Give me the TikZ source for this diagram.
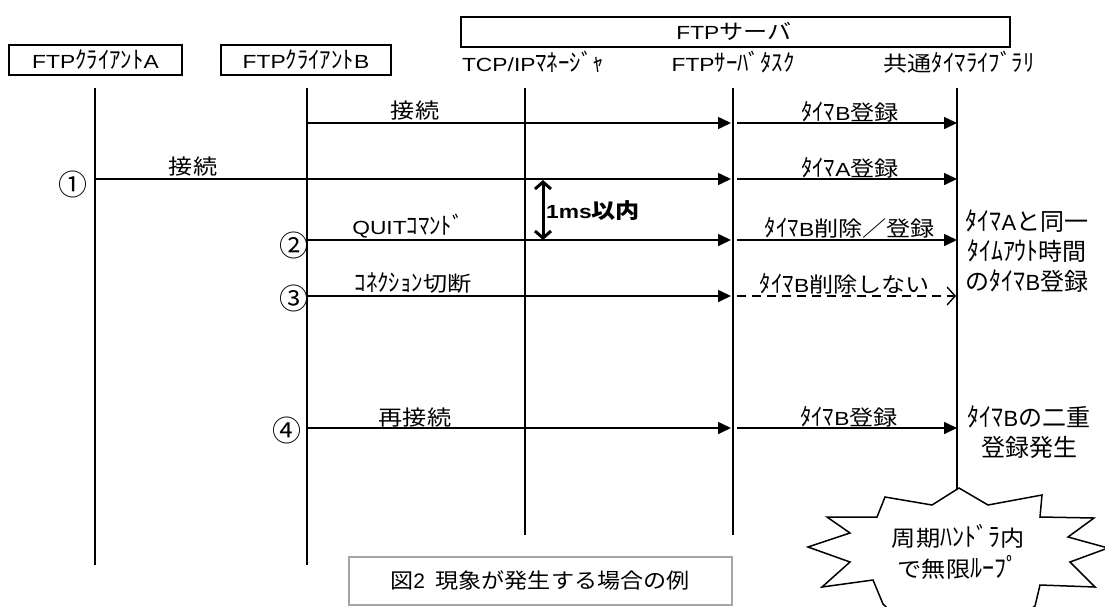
\documentclass[tikz,border=0pt]{standalone}
\usepackage{fontspec}
\setmainfont{Noto Sans CJK JP}[FakeStretch=1.15]
\newfontfamily\plainjp{Noto Sans CJK JP}
\newfontfamily\widejp{Noto Sans CJK JP}[FakeStretch=1.1]
\newfontfamily\hkfont{Noto Sans CJK JP}[FakeStretch=0.95]
\newfontfamily\hksfont{Noto Sans CJK JP}[FakeStretch=0.92]
\newfontfamily\latfont{Liberation Sans}[FakeStretch=1.2]
\newfontfamily\latplain{Liberation Sans}
\newcommand\la[1]{{\latfont\fontsize{19}{21}\selectfont #1}}
\newcommand\lb[1]{{\latplain\fontsize{22}{24}\selectfont #1}}
\newcommand\hk[1]{{\hkfont\fontsize{24}{26}\selectfont #1}}
\newcommand\hks[1]{{\hksfont\fontsize{26}{28}\selectfont #1}}
\usetikzlibrary{arrows.meta}
\tikzset{
  lbl/.style={font=\fontsize{21}{23}\selectfont, inner sep=0pt, anchor=base},
  hdr/.style={font=\fontsize{21}{23}\selectfont, inner sep=0pt},
  hbox/.style={draw, line width=1.5pt, inner sep=0pt, font=\fontsize{21}{23}\selectfont},
  life/.style={line width=1.5pt},
  msg/.style={line width=1.6pt, -{Triangle[length=13pt,width=12pt]}},
  dmsg/.style={line width=1.6pt, dash pattern=on 9pt off 6pt, -{Straight Barb[length=8pt,width=18pt,line width=1.4pt]}},
  side/.style={font=\plainjp\fontsize{24}{30}\selectfont, align=center, inner sep=0pt},
  num/.style={font=\plainjp\fontsize{29}{30}\selectfont, inner sep=0pt},
}
\begin{document}
\begin{tikzpicture}[x=1pt,y=-1pt]
\useasboundingbox[fill=white] (0,0) rectangle (1105,606);
% header boxes
\node[hbox, minimum width=173pt, minimum height=30pt] (hA) at (95.5,60) {\la{FTP}\hk{ｸﾗｲｱﾝﾄ}\la{A}};
\node[hbox, minimum width=170pt, minimum height=30pt] (hB) at (306,60) {\la{FTP}\hk{ｸﾗｲｱﾝﾄ}\la{B}};
\node[hbox, minimum width=549pt, minimum height=30pt] (hS) at (735.5,32) {};
\node[hdr] (hSt) at (734,31) {\la{FTP}サーバ};
\node[hdr] (hT) at (533,62) {\la{TCP/IP}\hk{ﾏﾈｰｼﾞｬ}};
\node[hdr] (hF) at (733,62) {\la{FTP}\hk{ｻｰﾊﾞﾀｽｸ}};
\node[hdr] (hL) at (959,62) {共通\hk{ﾀｲﾏﾗｲﾌﾞﾗﾘ}};
% lifelines
\coordinate (tA) at (95,88);   \coordinate (bA) at (95,565);
\coordinate (tB) at (307,88);  \coordinate (bB) at (307,565);
\coordinate (tT) at (525,88);  \coordinate (bT) at (525,535);
\coordinate (tF) at (733,88);  \coordinate (bF) at (733,535);
\coordinate (tL) at (957,88);  \coordinate (bL) at (957,489);
\draw[life] (tA) -- (bA);
\draw[life] (tB) -- (bB);
\draw[life] (tT) -- (bT);
\draw[life] (tF) -- (bF);
\draw[life] (tL) -- (bL);
% rows
\coordinate (r1) at (0,123);
\coordinate (r2) at (0,179);
\coordinate (r3) at (0,240);
\coordinate (r4) at (0,296);
\coordinate (r5) at (0,428);
% messages
\draw[msg, shorten >=2pt] (tB |- r1) -- (tF |- r1);
\draw[msg, shorten <=4pt] (tF |- r1) -- (tL |- r1);
\draw[msg, shorten >=2pt] (tA |- r2) -- (tF |- r2);
\draw[msg, shorten <=4pt] (tF |- r2) -- (tL |- r2);
\draw[msg, shorten >=2pt] (tB |- r3) -- (tF |- r3);
\draw[msg, shorten <=4pt] (tF |- r3) -- (tL |- r3);
\draw[msg, shorten >=2pt] (tB |- r4) -- (tF |- r4);
\draw[dmsg, shorten <=4pt, shorten >=1pt] (tF |- r4) -- (tL |- r4);
\draw[msg, shorten >=2pt] (tB |- r5) -- (tF |- r5);
\draw[msg, shorten <=4pt] (tF |- r5) -- (tL |- r5);
% message labels
\node[lbl] (m1) at (415,118) {接続};
\node[lbl] (m1b) at (850,120) {\hk{ﾀｲﾏ}\la{B}登録};
\node[lbl] (m2) at (193,174) {接続};
\node[lbl] (m2b) at (850,176) {\hk{ﾀｲﾏ}\la{A}登録};
\node[lbl] (m3) at (408,234) {\la{QUIT}\hk{ｺﾏﾝﾄﾞ}};
\node[lbl] (m3b) at (850,236) {\hk{ﾀｲﾏ}\la{B}削除／登録};
\node[lbl] (m4) at (413,291) {\hk{ｺﾈｸｼｮﾝ}切断};
\node[lbl] (m4b) at (845,292) {\hk{ﾀｲﾏ}\la{B}削除しない};
\node[lbl] (m5) at (415,425) {再接続};
\node[lbl] (m5b) at (849,425) {\hk{ﾀｲﾏ}\la{B}登録};
% 1ms
\coordinate (d1) at (543,180);
\coordinate (d2) at (543,240);
\draw[line width=3pt, {Straight Barb[length=7pt,width=16pt,line width=3pt]}-{Straight Barb[length=7pt,width=16pt,line width=3pt]}] (d1) -- (d2);
\node[font=\bfseries\fontsize{21}{23}\selectfont, inner sep=0pt, anchor=west] (ms) at (546,211) {{\latfont\fontsize{19}{21}\selectfont 1ms}以内};
% circled numbers
\node[num] (n1) at (73,184) {①};
\node[num] (n2) at (294,245) {②};
\node[num] (n3) at (294,298) {③};
\node[num] (n4) at (287,430) {④};
% side notes
\node[side] (s1) at (1027,251) {\hks{ﾀｲﾏ}\lb{A}と同一\\\hks{ﾀｲﾑｱｳﾄ}時間\\の\hks{ﾀｲﾏ}\lb{B}登録};
\node[side] (s2) at (1029,432) {\hks{ﾀｲﾏ}\lb{B}の二重\\登録発生};
% starburst
\begin{scope}
\clip (0,0) rectangle (1105,606);
\draw[line width=1.5pt, fill=white] (959,488) -- (988,505) -- (1042,495) -- (1040,517) -- (1094,518) -- (1068,537) -- (1108,548) -- (1070,562) -- (1095,587) -- (1040,585) -- (1035,606) -- (1010,625) -- (960,612) -- (905,625) -- (883,604) -- (873,580) -- (822,587) -- (850,562) -- (808,547) -- (850,533) -- (827,517) -- (877,517) -- (885,497) -- (932,505) -- cycle;
\end{scope}
\node[font=\widejp\fontsize{22}{31}\selectfont, align=center, inner sep=0pt] (burst) at (958,552) {周期\hks{ﾊﾝﾄﾞﾗ}内\\で無限\hks{ﾙｰﾌﾟ}};
% caption
\node[draw=black!35, line width=1.5pt, minimum width=383pt, minimum height=48pt, inner sep=0pt] (capbox) at (540.5,581) {};
\node[font=\widejp\fontsize{21}{23}\selectfont, inner sep=0pt] (cap) at (540,581) {図{\latplain 2}\ \ 現象が発生する場合の例};
\end{tikzpicture}
\end{document}
